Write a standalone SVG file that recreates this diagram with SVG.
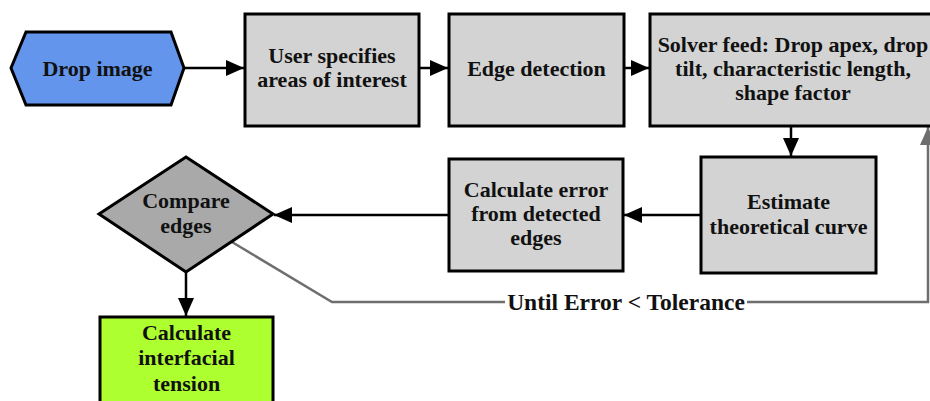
<svg xmlns="http://www.w3.org/2000/svg" width="930" height="401" viewBox="0 0 930 401">
  <style>
    .t { font-family: "Liberation Serif", "Times New Roman", serif; font-weight: bold; font-size: 22px; fill: #111; text-anchor: middle; }
    .lbl { font-size: 23.5px; }
    .box { fill: #d3d3d3; stroke: #000; stroke-width: 3; }
    .conn { fill: none; stroke: #000; stroke-width: 2.5; }
    .loop { fill: none; stroke: #6e6e6e; stroke-width: 2.5; }
  </style>
  <defs>
    <marker id="ah" markerUnits="userSpaceOnUse" markerWidth="18" markerHeight="16" viewBox="0 0 18 16" refX="18" refY="8" orient="auto">
      <path d="M0,0 L18,8 L0,16 Z" fill="#000"/>
    </marker>
    <marker id="ahg" markerUnits="userSpaceOnUse" markerWidth="18" markerHeight="16" viewBox="0 0 18 16" refX="18" refY="8" orient="auto">
      <path d="M0,0 L18,8 L0,16 Z" fill="#6e6e6e"/>
    </marker>
  </defs>
  <rect width="930" height="401" fill="#fff"/>

  <g id="connectors">
    <path class="conn" d="M184,68 L244,68" marker-end="url(#ah)"/>
    <path class="conn" d="M419,68 L448,68" marker-end="url(#ah)"/>
    <path class="conn" d="M624,68 L649,68" marker-end="url(#ah)"/>
    <path class="conn" d="M791,126 L791,156" marker-end="url(#ah)"/>
    <path class="conn" d="M701,215 L624,215" marker-end="url(#ah)"/>
    <path class="conn" d="M449,215 L274,215" marker-end="url(#ah)"/>
    <path class="conn" d="M186,272 L186,316" marker-end="url(#ah)"/>
    <path class="loop" d="M232,242 L332,302 L928,302 L928,127" marker-end="url(#ahg)"/>
    <rect x="505" y="290" width="242" height="24" fill="#fff"/>
    <text class="t lbl" x="626" y="310">Until Error &lt; Tolerance</text>
  </g>

  <g id="drop-image">
    <polygon points="11,68 26,32 171,32 184,68 171,105 26,105" fill="#6495ed" stroke="#000" stroke-width="3"/>
    <text class="t" x="97.5" y="76">Drop image</text>
  </g>

  <g id="user-specifies">
    <rect class="box" x="245" y="14" width="174" height="112"/>
    <text class="t" x="332" y="63">User specifies</text>
    <text class="t" x="332" y="87">areas of interest</text>
  </g>

  <g id="edge-detection">
    <rect class="box" x="449" y="14" width="175" height="112"/>
    <text class="t" x="536.5" y="76">Edge detection</text>
  </g>

  <g id="solver-feed">
    <rect class="box" x="650" y="14" width="290" height="112"/>
    <text class="t" x="793" y="52">Solver feed: Drop apex, drop</text>
    <text class="t" x="793" y="76">tilt, characteristic length,</text>
    <text class="t" x="793" y="100">shape factor</text>
  </g>

  <g id="estimate-curve">
    <rect class="box" x="701" y="157" width="175" height="116"/>
    <text class="t" x="788.5" y="209">Estimate</text>
    <text class="t" x="788.5" y="234">theoretical curve</text>
  </g>

  <g id="calculate-error">
    <rect class="box" x="449" y="159" width="174" height="112"/>
    <text class="t" x="536" y="197">Calculate error</text>
    <text class="t" x="536" y="221">from detected</text>
    <text class="t" x="536" y="245">edges</text>
  </g>

  <g id="compare-edges">
    <polygon points="99,214 186,157 273,214 186,272" fill="#a9a9a9" stroke="#000" stroke-width="3"/>
    <text class="t" x="186" y="208">Compare</text>
    <text class="t" x="186" y="233">edges</text>
  </g>

  <g id="interfacial-tension">
    <rect x="100" y="317" width="173" height="100" fill="#adff2f" stroke="#000" stroke-width="3"/>
    <text class="t" x="186.5" y="340">Calculate</text>
    <text class="t" x="186.5" y="365">interfacial</text>
    <text class="t" x="186.5" y="391">tension</text>
  </g>
</svg>
